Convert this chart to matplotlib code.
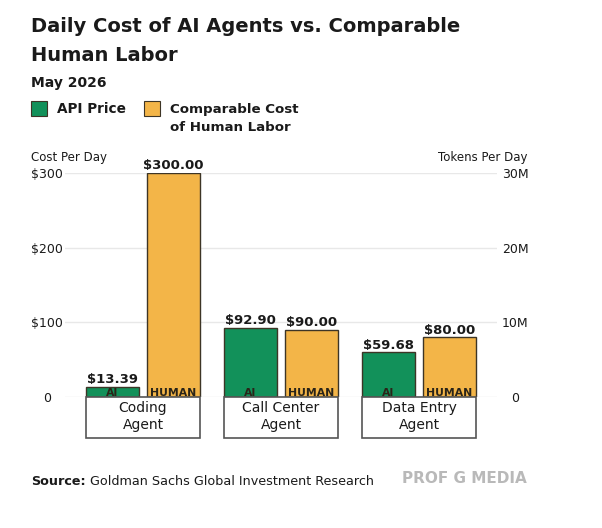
import matplotlib
matplotlib.use("Agg")
import matplotlib.pyplot as plt
from matplotlib.patches import Rectangle
from matplotlib.ticker import FixedLocator

plt.rcParams['font.family'] = ['DejaVu Sans']

# ---- data ----
categories = ["Coding\nAgent", "Call Center\nAgent", "Data Entry\nAgent"]
api_price = [13.39, 92.90, 59.68]
human_cost = [300.00, 90.00, 80.00]
left_ticks = [0, 100, 200, 300]
left_labels = ["0", "$100", "$200", "$300"]
right_ticks = [0, 10e6, 20e6, 30e6]
right_labels = ["0", "10M", "20M", "30M"]
series_names = ["API Price", "Comparable Cost\nof Human Labor"]
bar_tags = ["AI", "HUMAN"]

GREEN = "#12915A"
ORANGE = "#F3B548"
EDGE = "#3d3526"
TXT = "#1a1a1a"
GRID = "#e8e8e8"

W, H = 602, 528
fig = plt.figure(figsize=(W / 100, H / 100), dpi=100)

def fx(px):
    return px / W

def fy(py):
    return 1 - py / H

ax = fig.add_axes([fx(65), fy(397), fx(497) - fx(65), fy(173) - fy(397)])
ax.set_xlim(-0.565, 2.565)
ax.set_ylim(0, 300)
for s in ax.spines.values():
    s.set_visible(False)

ax.yaxis.set_major_locator(FixedLocator(left_ticks))
ax.set_yticklabels(left_labels)
ax.tick_params(axis='y', length=0, pad=13, labelsize=9, labelcolor=TXT)
for lab in ax.get_yticklabels():
    lab.set_horizontalalignment('center')
ax.set_xticks([])
ax.grid(axis='y', color=GRID, lw=1)
ax.set_axisbelow(True)

ax2 = ax.twinx()
ax2.set_ylim(0, 30e6)
ax2.yaxis.set_major_locator(FixedLocator(right_ticks))
ax2.set_yticklabels(right_labels)
ax2.tick_params(axis='y', length=0, pad=13, labelsize=9, labelcolor=TXT)
for lab in ax2.get_yticklabels():
    lab.set_horizontalalignment('center')
for s in ax2.spines.values():
    s.set_visible(False)

off = 0.221
bw = 0.384
xs = list(range(len(categories)))
for i, x in enumerate(xs):
    for j, (vals, col) in enumerate(((api_price, GREEN), (human_cost, ORANGE))):
        xc = x - off if j == 0 else x + off
        v = vals[i]
        ax.bar(xc, v, width=bw, color=col, edgecolor=EDGE, linewidth=1, zorder=3)
        ax.text(xc, v + 5, f"${v:,.2f}", ha='center', va='baseline',
                fontsize=9.5, fontweight='bold', color=TXT, clip_on=False, zorder=4)
        ax.text(xc, 1.5, bar_tags[j], ha='center', va='baseline',
                fontsize=7.8, fontweight='bold', color="#2a2418", zorder=4)
    bx0 = x - off - bw / 2
    ax.add_patch(Rectangle((bx0, -55), 2 * off + bw, 55, facecolor='white',
                           edgecolor='#555555', linewidth=1.2, clip_on=False, zorder=3))
    ax.text(x, -26, categories[i], ha='center', va='center', fontsize=10,
            color=TXT, linespacing=1.3, clip_on=False, zorder=4)

# ---- titles ----
fig.text(fx(31), fy(32), "Daily Cost of AI Agents vs. Comparable", fontsize=14.0,
         fontweight='bold', color=TXT, va='baseline')
fig.text(fx(31), fy(61), "Human Labor", fontsize=14.0, fontweight='bold',
         color=TXT, va='baseline')
fig.text(fx(31), fy(87), "May 2026", fontsize=10, fontweight='bold',
         color=TXT, va='baseline')

# ---- legend ----
fig.patches.append(Rectangle((fx(31), fy(116)), fx(16), fy(101) - fy(116),
                             transform=fig.transFigure, facecolor=GREEN,
                             edgecolor=EDGE, linewidth=0.8))
fig.text(fx(57), fy(113), series_names[0], fontsize=9.8, fontweight='bold',
         color=TXT, va='baseline')
fig.patches.append(Rectangle((fx(144), fy(116)), fx(16), fy(101) - fy(116),
                             transform=fig.transFigure, facecolor=ORANGE,
                             edgecolor=EDGE, linewidth=0.8))
for k, line in enumerate(series_names[1].split("\n")):
    fig.text(fx(170), fy(113 + 18 * k), line, fontsize=9.6, fontweight='bold',
             color=TXT, va='baseline')

# ---- axis titles ----
fig.text(fx(31), fy(161), "Cost Per Day", fontsize=8.5, color=TXT, va='baseline')
fig.text(fx(527), fy(161), "Tokens Per Day", fontsize=8.5, color=TXT,
         va='baseline', ha='right')

# ---- source ----
src_b = fig.text(fx(31), fy(485), "Source:", fontsize=9.2, fontweight='bold',
                 color=TXT, va='baseline')
fig.canvas.draw()
r = fig.canvas.get_renderer()
bb = src_b.get_window_extent(r)
fig.text(bb.x1 / W + fx(4), fy(485), "Goldman Sachs Global Investment Research",
         fontsize=9.2, color=TXT, va='baseline')

fig.text(fx(527), fy(483), "PROF G MEDIA", fontsize=11, fontweight='bold',
         family=['Liberation Sans Narrow', 'DejaVu Sans'], color='#b9b9b9',
         va='baseline', ha='right')

fig.savefig("out.png", dpi=100, facecolor='white')
